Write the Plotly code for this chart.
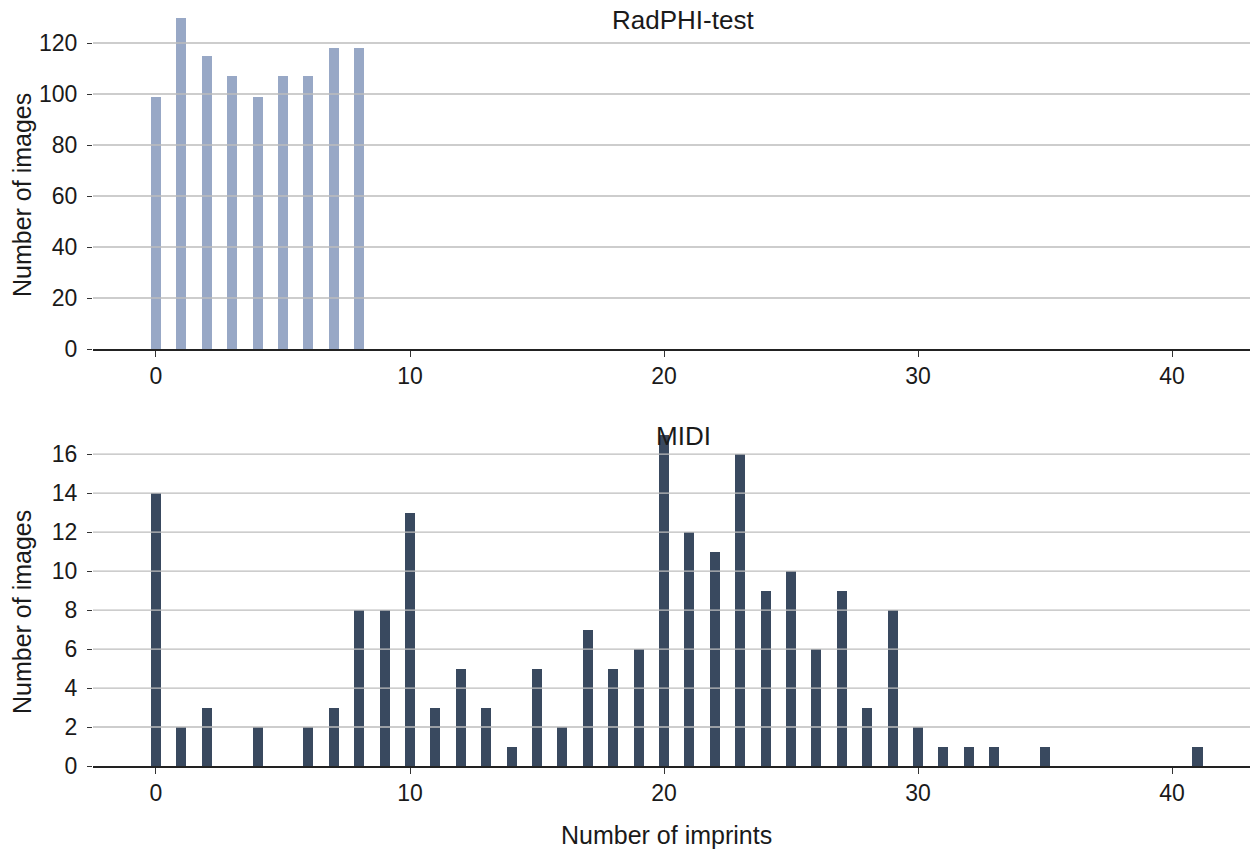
import plotly.graph_objects as go

# Data
radphi_x = [0, 1, 2, 3, 4, 5, 6, 7, 8]
radphi_y = [99, 130, 115, 107, 99, 107, 107, 118, 118]

midi_x = list(range(0, 42))
midi_y = [14, 2, 3, 0, 2, 0, 2, 3, 8, 8,
          13, 3, 5, 3, 1, 5, 2, 7, 5, 6,
          17, 12, 11, 16, 9, 10, 6, 9, 3, 8,
          2, 1, 1, 1, 0, 1, 0, 0, 0, 0,
          0, 1]

x_ticks = [0, 10, 20, 30, 40]
top_y_ticks = [0, 20, 40, 60, 80, 100, 120]
bot_y_ticks = [0, 2, 4, 6, 8, 10, 12, 14, 16]

top_color = "#98a8c6"
bot_color = "#39495f"
FONT = "Liberation Sans"
TXT = "#1a1a1a"

W, H = 1252, 853
L, R = 93, 2
top_dom = [(H - 349) / H, (H - 17) / H]
bot_dom = [(H - 766) / H, (H - 435) / H]

fig = go.Figure()
fig.add_trace(go.Bar(x=radphi_x, y=radphi_y, width=0.4, marker=dict(color=top_color, line=dict(width=0)),
                     xaxis="x", yaxis="y", showlegend=False))
fig.add_trace(go.Bar(x=midi_x, y=midi_y, width=0.4, marker=dict(color=bot_color, line=dict(width=0)),
                     xaxis="x2", yaxis="y2", showlegend=False))

xcommon = dict(range=[-2.48, 43.07], tickvals=x_ticks, ticks="outside", ticklen=6, tickcolor="#333",
               showline=True, linecolor="#222", linewidth=1.5, showgrid=False, zeroline=False,
               tickfont=dict(size=23, color=TXT, family=FONT), automargin=False)
ycommon = dict(ticks="outside", ticklen=5, tickcolor="#333", showline=False, showgrid=False,
               zeroline=False, tickfont=dict(size=23, color=TXT, family=FONT), automargin=False,
               ticklabelstandoff=5)

fig.update_layout(
    width=W, height=H,
    margin=dict(l=L, r=R, t=0, b=0),
    paper_bgcolor="white", plot_bgcolor="white",
    xaxis=dict(domain=[0, 1], anchor="y", **xcommon),
    yaxis=dict(domain=top_dom, anchor="x", range=[0, 130.2], tickvals=top_y_ticks, **ycommon),
    xaxis2=dict(domain=[0, 1], anchor="y2", **xcommon),
    yaxis2=dict(domain=bot_dom, anchor="x2", range=[0, 16.98], tickvals=bot_y_ticks, **ycommon),
    bargap=0,
)

shapes = []
for v in top_y_ticks[1:]:
    shapes.append(dict(type="line", xref="x domain", yref="y", x0=0, x1=1, y0=v, y1=v,
                       line=dict(color="#bdbdbd", width=1.3), layer="above"))
for v in bot_y_ticks[1:]:
    shapes.append(dict(type="line", xref="x2 domain", yref="y2", x0=0, x1=1, y0=v, y1=v,
                       line=dict(color="#bdbdbd", width=1.3), layer="above"))
fig.update_layout(shapes=shapes)

pxx = lambda px: (px - L) / (W - L - R)
pyy = lambda py: (H - py) / H

def ann(text, px, py, size, angle=0):
    return dict(text=text, x=pxx(px), y=pyy(py), xref="paper", yref="paper", showarrow=False,
                xanchor="center", yanchor="middle", textangle=angle,
                font=dict(size=size, color=TXT, family=FONT))

annotations = [
    ann("RadPHI-test", 683, 20, 26),
    ann("MIDI", 683, 436, 26),
    ann("Number of images", 22, 195, 25, -90),
    ann("Number of images", 22, 612, 25, -90),
    ann("Number of imprints", 666, 835, 25),
]
fig.update_layout(annotations=annotations)

fig.write_html("out.html", config=dict(displayModeBar=False),
               post_script="document.body.style.margin='0px';document.body.style.overflow='hidden';")
